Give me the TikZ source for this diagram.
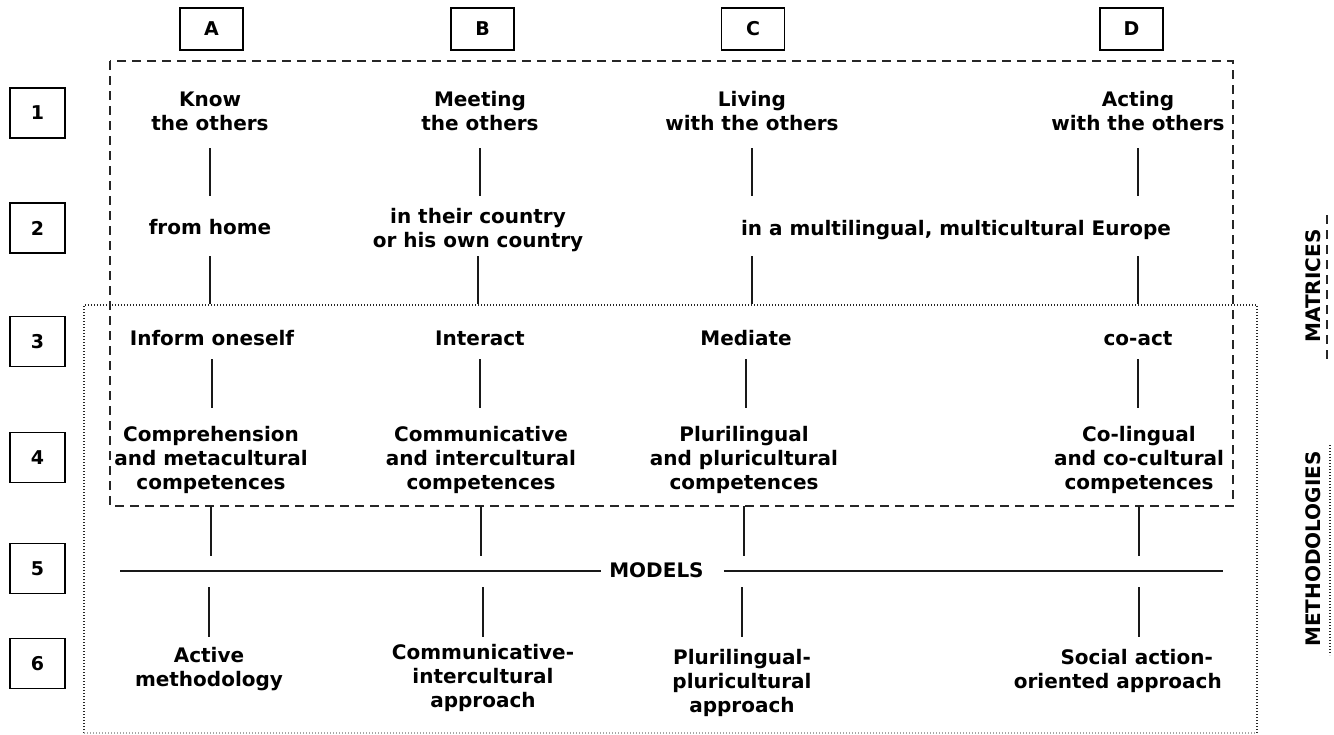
\documentclass[tikz,border=0pt]{standalone}
\usepackage{fontspec}
\setmainfont{DejaVu Sans}
\begin{document}
\begin{tikzpicture}[x=1pt,y=-1pt,
  txt/.style={font=\fontsize{20}{24}\selectfont\bfseries, align=center, inner sep=0pt, text=black},
  lbl/.style={draw, line width=1.5pt, font=\fontsize{19}{20}\selectfont\bfseries, inner sep=0pt},
  colbox/.style={lbl, minimum width=63pt, minimum height=42pt},
  rowbox/.style={lbl, minimum width=55pt, minimum height=50pt},
  bar/.style={line width=2.7pt, black!90},
  dashframe/.style={line width=2.5pt, dash pattern=on 9pt off 6pt, black!85},
  dotframe/.style={line width=2pt, dash pattern=on 1.4pt off 1.6pt, black!85},
]
\useasboundingbox (0,0) rectangle (1334,734);

% frames
\draw[dashframe] (110,61) rectangle (1233,506);
\draw[dotframe] (84,733) -- (84,305) -- (1257,305) -- (1257,733);
\draw[dotframe, black!35, line width=1.2pt] (84,733) -- (1257,733);

% column and row boxes
\node[colbox] (A) at (211.5,29) {A};
\node[colbox] (B) at (482.5,29) {B};
\node[colbox] (C) at (753,29) {C};
\node[colbox] (D) at (1131.5,29) {D};
\node[rowbox] (r1) at (37.5,113) {1};
\node[rowbox] (r2) at (37.5,228) {2};
\node[rowbox] (r3) at (37.5,341.5) {3};
\node[rowbox] (r4) at (37.5,457.5) {4};
\node[rowbox] (r5) at (37.5,568.5) {5};
\node[rowbox] (r6) at (37.5,663.5) {6};

% texts
\node[txt] (a1) at (210,111.5) {Know\\the others};
\node[txt] (b1) at (480,111.5) {Meeting\\the others};
\node[txt] (c1) at (752,111.5) {Living\\with the others};
\node[txt] (d1) at (1138,111.5) {Acting\\with the others};
\node[txt] (a2) at (210,227.4) {from home};
\node[txt] (b2) at (478,230) {in their country\\or his own country};
\node[txt] (cd2) at (956,229.7) {in a multilingual, multicultural Europe};
\node[txt] (a3) at (212,338.4) {Inform oneself};
\node[txt] (b3) at (480,338.7) {Interact};
\node[txt] (c3) at (746,338.4) {Mediate};
\node[txt] (d3) at (1138,339) {co-act};
\node[txt] (a4) at (211,459.7) {Comprehension\\and metacultural\\competences};
\node[txt] (b4) at (481,459.7) {Communicative\\and intercultural\\competences};
\node[txt] (c4) at (744,459.7) {Plurilingual\\and pluricultural\\competences};
\node[txt] (d4) at (1139,459.7) {Co-lingual\\and co-cultural\\competences};
\node[txt] (models) at (656.5,570) {MODELS};
\node[txt] (a6) at (209,668.6) {Active\\methodology};
\node[txt] (b6) at (483,677.6) {Communicative-\\intercultural\\approach};
\node[txt] (c6) at (742,682.6) {Plurilingual-\\pluricultural\\approach};
\node[txt, align=right, anchor=east] (d6) at (1222,670.6) {Social action-\kern9pt\\oriented approach};

% side labels
\node[txt, rotate=90] (matr) at (1313,286) {MATRICES};
\node[txt, rotate=90] (meth) at (1313,549) {METHODOLOGIES};
\coordinate (ms) at (1327,215);
\coordinate (me) at (1327,362);
\coordinate (os) at (1330,445);
\coordinate (oe) at (1330,655);
\draw[dashframe] (ms) -- (me);
\draw[dotframe] (os) -- (oe);

% level coordinates
\coordinate (t12) at (0,148);
\coordinate (b12) at (0,196);
\coordinate (t23) at (0,256);
\coordinate (b23) at (0,304);
\coordinate (t34) at (0,359);
\coordinate (b34) at (0,408);
\coordinate (t45) at (0,506);
\coordinate (b45) at (0,556);
\coordinate (t56) at (0,587);
\coordinate (b56) at (0,637);

% bars
\foreach \u/\v/\w/\x/\y in {a1/a1/a3/a4/a6, b1/b2/b3/b4/b6, c1/c1/c3/c4/c6, d1/d1/d3/d4/d4}{
  \draw[bar] (\u |- t12) -- (\u |- b12);
  \draw[bar] (\v |- t23) -- (\v |- b23);
  \draw[bar] (\w |- t34) -- (\w |- b34);
  \draw[bar] (\x |- t45) -- (\x |- b45);
  \draw[bar] (\y |- t56) -- (\y |- b56);
}

% models line
\coordinate (ml) at (120,571);
\coordinate (mr) at (1223,571);
\draw[bar, line width=2.5pt, shorten >=8pt] (ml) -- (ml -| models.west);
\draw[bar, line width=2.5pt, shorten <=20pt] (ml -| models.east) -- (mr);
\end{tikzpicture}
\end{document}
